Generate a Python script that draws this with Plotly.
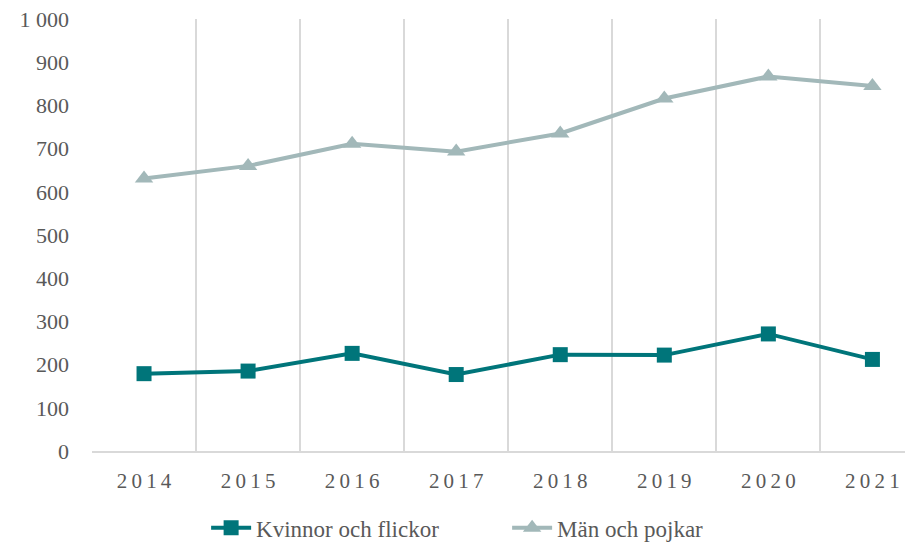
import plotly.graph_objects as go

years = ["2014", "2015", "2016", "2017", "2018", "2019", "2020", "2021"]
year_labels = ["2\u20090\u20091\u20094", "2\u20090\u20091\u20095", "2\u20090\u20091\u20096", "2\u20090\u20091\u20097",
               "2\u20090\u20091\u20098", "2\u20090\u20091\u20099", "2\u20090\u20092\u20090", "2\u20090\u20092\u20091"]
kvinnor = [179, 185, 226, 177, 223, 222, 271, 212]
man = [631, 660, 711, 693, 735, 816, 867, 845]
y_ticks = [0, 100, 200, 300, 400, 500, 600, 700, 800, 900, 1000]

font_family = "Liberation Serif, Times New Roman, serif"
text_color = "#595959"
grid_color = "#D9D9D9"

fig = go.Figure()
fig.add_trace(go.Scatter(
    x=years, y=kvinnor, name="Kvinnor och flickor",
    mode="lines+markers",
    line=dict(color="#00757A", width=4),
    marker=dict(symbol="square", size=15, color="#00757A"),
))
fig.add_trace(go.Scatter(
    x=years, y=man, name="Män och pojkar",
    mode="lines+markers",
    line=dict(color="#A2B8B9", width=4),
    marker=dict(symbol="triangle-up", size=16, color="#A2B8B9"),
))

# page body has an 8px margin, so the figure is sized to the visible area
fig.update_layout(
    width=905, height=534,
    margin=dict(l=84, r=0, t=11, b=91, autoexpand=False),
    paper_bgcolor="white", plot_bgcolor="white",
    separators=", ",
    font=dict(family=font_family, color=text_color, size=21),
    showlegend=True,
    legend=dict(orientation="h", x=0.139, xref="paper", xanchor="left",
                y=-0.178, yanchor="middle", font=dict(size=23, color=text_color, family=font_family),
                itemwidth=40, tracegroupgap=0, entrywidth=246, entrywidthmode="pixels"),
)
fig.update_xaxes(
    type="category", categoryorder="array", categoryarray=years,
    tickmode="array", tickvals=years, ticktext=year_labels,
    range=[-0.5, 7.39], tickson="boundaries",
    showgrid=True, gridcolor=grid_color, gridwidth=1.5,
    showline=True, linecolor=grid_color, linewidth=1.5,
    ticks="", zeroline=False, automargin=False,
    ticklabelstandoff=10,
    tickfont=dict(size=21, color=text_color, family=font_family),
)
fig.update_yaxes(
    range=[0, 1000], tickvals=y_ticks, tickformat=",d",
    showgrid=False, zeroline=False, showline=False, ticks="",
    ticklabelstandoff=22, automargin=False, ticklabeloverflow="allow",
    tickfont=dict(size=22, color=text_color, family=font_family),
)

fig.write_html("out.html")
